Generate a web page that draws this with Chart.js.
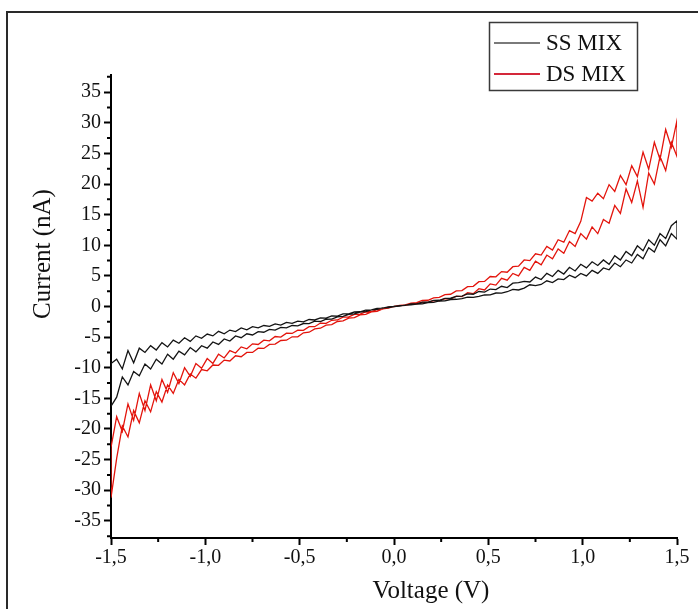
<!DOCTYPE html>
<html>
<head>
<meta charset="utf-8">
<script src="https://cdn.jsdelivr.net/npm/chart.js@4/dist/chart.umd.min.js"></script>
<style>
html,body{margin:0;padding:0;background:#fff;}
#wrap{width:698px;height:609px;position:relative;}
</style>
</head>
<body>
<div id="wrap"><canvas id="c" width="698" height="609"></canvas></div>
<script>
// ---- data ----
const seriesLabels = ['SS MIX', 'DS MIX'];
const xTitle = 'Voltage (V)';
const yTitle = 'Current (nA)';
const xMajorTicks = [-1.5, -1.0, -0.5, 0, 0.5, 1.0, 1.5];
const yMajorTicks = [-35, -30, -25, -20, -15, -10, -5, 0, 5, 10, 15, 20, 25, 30, 35];

// sweep voltage magnitudes (V)
const voltageGrid = [0, 0.03, 0.06, 0.09, 0.12, 0.15, 0.18, 0.21, 0.24, 0.27,
  0.30, 0.33, 0.36, 0.39, 0.42, 0.45, 0.48, 0.51, 0.54, 0.57,
  0.60, 0.63, 0.66, 0.69, 0.72, 0.75, 0.78, 0.81, 0.84, 0.87,
  0.90, 0.93, 0.96, 0.99, 1.02, 1.05, 1.08, 1.11, 1.14, 1.17,
  1.20, 1.23, 1.26, 1.29, 1.32, 1.35, 1.38, 1.41, 1.44, 1.47, 1.50];

// SS MIX, currents (nA)
const ssPosOut = [0, 0.06, 0.21, 0.25, 0.41, 0.44, 0.63, 0.69, 0.9, 0.93,
  1.14, 1.18, 1.3, 1.52, 1.49, 1.66, 1.88, 1.9, 2.2, 2.18,
  2.41, 2.8, 2.7, 3.0, 3.55, 3.4, 3.6, 4.2, 3.9, 4.5,
  4.4, 5.1, 4.7, 5.4, 5.0, 5.9, 5.4, 6.3, 6.0, 7.1,
  6.5, 7.6, 7.1, 8.5, 7.8, 9.6, 8.9, 10.9, 9.9, 11.9, 11.0];
const ssPosBack = [0, 0.15, 0.2, 0.42, 0.44, 0.7, 0.72, 1.0, 1.02, 1.33,
  1.35, 1.66, 1.7, 2.05, 2.0, 2.45, 2.35, 2.85, 2.75, 3.3,
  3.1, 3.8, 3.9, 4.1, 4.0, 4.8, 4.4, 5.4, 4.9, 5.9,
  5.3, 6.4, 5.8, 6.9, 6.3, 7.3, 6.7, 7.6, 6.9, 8.3,
  7.6, 9.0, 8.3, 9.9, 9.1, 10.9, 10.0, 11.9, 11.1, 13.2, 14.0];
const ssNegOut = [0, -0.08, -0.25, -0.31, -0.55, -0.6, -0.86, -0.9, -1.2, -1.22,
  -1.58, -1.55, -1.9, -1.85, -2.2, -2.12, -2.5, -2.38, -2.75, -2.6,
  -3.05, -2.85, -3.25, -3.1, -3.5, -3.3, -3.8, -3.5, -4.1, -3.85,
  -4.45, -4.05, -4.8, -4.5, -5.2, -4.8, -5.7, -5.1, -6.0, -5.5,
  -6.6, -5.9, -7.1, -6.4, -7.5, -6.8, -9.2, -7.2, -10.2, -8.6, -9.3];
const ssNegBack = [0, -0.16, -0.22, -0.48, -0.55, -0.85, -0.9, -1.22, -1.28, -1.62,
  -1.7, -2.05, -2.08, -2.45, -2.4, -2.8, -2.78, -3.15, -3.1, -3.5,
  -3.4, -3.85, -3.75, -4.2, -4.1, -4.65, -4.45, -5.1, -4.8, -5.65,
  -5.3, -6.2, -5.8, -6.8, -6.4, -7.4, -6.7, -7.9, -7.3, -8.6,
  -7.8, -9.4, -8.6, -10.2, -9.4, -11.3, -10.6, -12.8, -11.5, -14.8, -16.3];

// DS MIX, currents (nA)
const dsPosOut = [0, 0.14, 0.17, 0.4, 0.42, 0.65, 0.66, 0.95, 0.93, 1.28,
  1.22, 1.7, 1.6, 2.25, 2.1, 2.9, 2.7, 3.7, 3.5, 4.6,
  4.3, 5.4, 5.0, 6.4, 5.9, 7.4, 6.8, 8.4, 7.8, 9.4,
  8.7, 10.6, 9.8, 11.9, 11.0, 13.0, 11.9, 14.2, 13.6, 16.5,
  15.2, 19.2, 17.0, 20.5, 16.2, 21.8, 20.0, 24.5, 22.2, 26.8, 24.5];
const dsPosBack = [0, 0.2, 0.25, 0.56, 0.62, 0.98, 1.02, 1.42, 1.5, 1.95,
  2.0, 2.55, 2.6, 3.25, 3.3, 4.05, 4.1, 4.9, 4.85, 5.7,
  5.6, 6.5, 6.6, 7.6, 7.5, 8.6, 8.4, 9.8, 9.2, 10.9,
  10.5, 12.4, 11.9, 13.9, 17.8, 17.2, 18.5, 17.6, 19.9, 18.8,
  21.4, 19.9, 23.0, 21.2, 25.2, 22.4, 26.8, 24.0, 28.9, 26.0, 30.4];
const dsNegOut = [0, -0.12, -0.42, -0.5, -0.82, -0.9, -1.25, -1.3, -1.7, -1.75,
  -2.2, -2.25, -2.75, -2.7, -3.3, -3.3, -3.9, -3.85, -4.4, -4.35,
  -5.0, -4.9, -5.6, -5.5, -6.2, -6.1, -6.9, -6.6, -7.6, -7.2,
  -8.4, -7.8, -9.3, -8.5, -10.1, -9.3, -11.4, -10.0, -12.6, -10.8,
  -14.0, -11.9, -15.4, -12.8, -17.0, -14.2, -18.6, -15.9, -20.4, -18.0, -23.0];
const dsNegBack = [0, -0.28, -0.4, -0.78, -0.88, -1.3, -1.38, -1.8, -1.9, -2.35,
  -2.45, -2.95, -3.05, -3.55, -3.65, -4.2, -4.3, -4.95, -4.95, -5.5,
  -5.55, -6.15, -6.2, -6.85, -6.8, -7.5, -7.5, -8.2, -8.05, -8.9,
  -8.75, -9.6, -9.55, -10.5, -10.3, -11.7, -11.0, -12.8, -11.9, -14.2,
  -12.8, -15.6, -13.9, -17.2, -15.4, -19.0, -17.0, -21.3, -19.5, -24.8, -31.2];

// ---- build sweep loops: 0 -> +1.5 -> 0 -> -1.5 -> 0 ----
function sweep(posOut, posBack, negOut, negBack) {
  const pts = [];
  const n = voltageGrid.length;
  for (let i = 0; i < n; i++) pts.push({x: voltageGrid[i], y: posOut[i]});
  for (let i = n - 1; i >= 0; i--) pts.push({x: voltageGrid[i], y: posBack[i]});
  for (let i = 0; i < n; i++) pts.push({x: -voltageGrid[i], y: negOut[i]});
  for (let i = n - 1; i >= 0; i--) pts.push({x: -voltageGrid[i], y: negBack[i]});
  return pts;
}

const seriesColors = ['#141414', '#e3140c'];
const legendColors = ['#7a7a7a', '#d4283a'];
const FONT = '"Liberation Serif", "Times New Roman", serif';

const isMultiple = (v, m) => Math.abs(v / m - Math.round(v / m)) < 1e-6;

const decorPlugin = {
  id: 'decor',
  afterDraw(chart) {
    const ctx = chart.ctx;
    const xs = chart.scales.x, ys = chart.scales.y;
    ctx.save();
    // outer frame (top & left edges visible)
    ctx.strokeStyle = '#2a2a2a';
    ctx.lineWidth = 2;
    ctx.beginPath();
    ctx.moveTo(7, 609);
    ctx.lineTo(7, 12);
    ctx.lineTo(700, 12);
    ctx.stroke();
    // minor ticks
    ctx.strokeStyle = '#000';
    ctx.lineWidth = 2;
    ctx.beginPath();
    xs.ticks.forEach(t => {
      if (!isMultiple(t.value, 0.5)) {
        const px = xs.getPixelForValue(t.value);
        ctx.moveTo(px, xs.top);
        ctx.lineTo(px, xs.top + 4);
      }
    });
    ys.ticks.forEach(t => {
      if (!isMultiple(t.value, 5)) {
        const py = ys.getPixelForValue(t.value);
        ctx.moveTo(ys.right, py);
        ctx.lineTo(ys.right - 4, py);
      }
    });
    ctx.stroke();
    // axis titles
    ctx.fillStyle = '#111';
    ctx.font = '25px ' + FONT;
    ctx.textAlign = 'center';
    ctx.textBaseline = 'middle';
    ctx.fillText(xTitle, 431, 591);
    ctx.save();
    ctx.translate(43, 254);
    ctx.rotate(-Math.PI / 2);
    ctx.fillText(yTitle, 0, 0);
    ctx.restore();
    // legend box
    ctx.strokeStyle = '#3a3a3a';
    ctx.lineWidth = 1.5;
    ctx.strokeRect(489.5, 22.5, 148, 68);
    ctx.font = '23px ' + FONT;
    ctx.textAlign = 'left';
    chart.data.datasets.forEach((ds, i) => {
      const y = 43 + i * 31;
      ctx.strokeStyle = legendColors[i];
      ctx.lineWidth = 2;
      ctx.beginPath();
      ctx.moveTo(494, y);
      ctx.lineTo(540, y);
      ctx.stroke();
      ctx.fillStyle = '#111';
      ctx.fillText(ds.label, 546, y + 1);
    });
    ctx.restore();
  }
};

new Chart(document.getElementById('c'), {
  type: 'scatter',
  data: {
    datasets: [
      {label: seriesLabels[0], data: sweep(ssPosOut, ssPosBack, ssNegOut, ssNegBack),
       showLine: true, borderColor: seriesColors[0], borderWidth: 1.3, pointRadius: 0, tension: 0},
      {label: seriesLabels[1], data: sweep(dsPosOut, dsPosBack, dsNegOut, dsNegBack),
       showLine: true, borderColor: seriesColors[1], borderWidth: 1.3, pointRadius: 0, tension: 0}
    ]
  },
  options: {
    responsive: false,
    animation: false,
    devicePixelRatio: 1,
    layout: {padding: {left: 0, right: 21, top: 75, bottom: 0}},
    plugins: {legend: {display: false}, tooltip: {enabled: false}},
    scales: {
      x: {
        type: 'linear', min: -1.5, max: 1.5,
        afterFit: s => { s.height = 71; },
        border: {display: true, color: '#000', width: 2},
        grid: {drawOnChartArea: false, drawTicks: true, tickLength: 7, tickWidth: 2,
               tickColor: c => (c.tick && isMultiple(c.tick.value, 0.5)) ? '#000' : 'rgba(0,0,0,0)'},
        ticks: {
          stepSize: 0.25, autoSkip: false, maxRotation: 0, padding: 1,
          color: '#111', font: {family: FONT, size: 20},
          callback: v => xMajorTicks.some(m => Math.abs(m - v) < 1e-6) ? v.toFixed(1).replace('.', ',') : ''
        }
      },
      y: {
        type: 'linear', min: -37.8, max: 37.8,
        afterFit: s => { s.width = 111; },
        border: {display: true, color: '#000', width: 2},
        grid: {drawOnChartArea: false, drawTicks: true, tickLength: 7, tickWidth: 2,
               tickColor: c => (c.tick && isMultiple(c.tick.value, 5)) ? '#000' : 'rgba(0,0,0,0)'},
        ticks: {
          stepSize: 2.5, autoSkip: false, includeBounds: false, padding: 3,
          color: '#111', font: {family: FONT, size: 20},
          callback: v => yMajorTicks.some(m => Math.abs(m - v) < 1e-6) ? String(Math.round(v)) : ''
        }
      }
    }
  },
  plugins: [decorPlugin]
});
</script>
</body>
</html>
